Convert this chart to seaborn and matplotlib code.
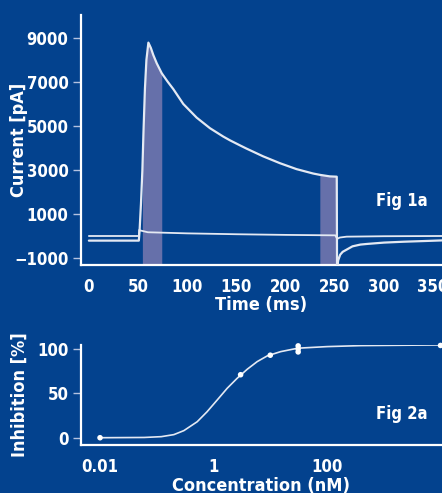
import numpy as np
import pandas as pd
import matplotlib
matplotlib.use("Agg")
import matplotlib.pyplot as plt
import seaborn as sns

# Fig 1a: current traces (time in ms, current in pA)
trace_a_t = [0, 50.8, 51.5, 53.0, 54.4, 55.5, 57.0, 58.5, 60.5, 63.0, 65.5, 69.0, 74.1,
             80.0, 85.8, 96.0, 109.6, 123.1, 136.6, 143.4, 153.6, 160.4, 177.2, 194.2,
             211.1, 228.0, 234.8, 244.9, 252.0, 252.3, 253.5, 255.5, 258.0, 262.0, 268.0,
             276.0, 283.0, 300.0, 320.0, 340.0, 359.0]
trace_a_v = [-210, -210, 200, 1500, 3000, 4700, 6700, 8000, 8790, 8550, 8227, 7850, 7396,
             7020, 6680, 6000, 5380, 4900, 4520, 4350, 4120, 3970, 3620, 3310,
             3040, 2840, 2780, 2710, 2696, -1450, -1100, -850, -720, -620, -470,
             -390, -360, -300, -260, -230, -200]
trace_b_t = [0, 50.8, 51.2, 52.5, 60, 100, 150, 200, 250.5, 252.5, 255, 262, 300, 359]
trace_b_v = [0, 0, 280, 250, 170, 120, 80, 50, 30, -130, -70, -30, -10, 0]
bands = [(54.4, 74.1), (234.8, 252.0)]
t_ticks = [0, 50, 100, 150, 200, 250, 300, 350]
i_ticks = [-1000, 1000, 3000, 5000, 7000, 9000]

# Fig 2a: inhibition vs concentration
conc_pts = [0.01, 3.0, 10, 31, 31, 31, 10000]
inhib_pts = [0, 71, 93, 103.5, 100, 96.7, 104]
fit_conc = [0.01, 0.06, 0.12, 0.2, 0.30, 0.515, 0.77, 1.16, 1.74, 2.61, 3.93, 5.89, 8.83,
            15.2, 30.6, 101, 390, 10600]
fit_inhib = [0, 0.3, 1.2, 3.5, 8.0, 18, 29.3, 42.5, 55.7, 67, 77.2, 85.8, 92.2,
             97, 100.9, 102.7, 103.8, 104.6]
c_ticks = [0.01, 1, 100]
c_labels = ["0.01", "1", "100"]
p_ticks = [0, 50, 100]

bg = "#03428e"
band_col = "#6670aa"
line_col = "#e4e9f3"
tick_col = "#b4c2e0"

sns.set_theme(style="ticks", rc={"figure.facecolor": bg, "axes.facecolor": bg,
                                 "savefig.facecolor": bg})
plt.rcParams["font.family"] = ["DejaVu Sans"]
plt.rcParams["font.stretch"] = "condensed"
plt.rcParams["font.weight"] = "bold"

fig = plt.figure(figsize=(4.42, 4.93), dpi=100)
ax1 = fig.add_axes([81 / 442, 1 - 265 / 493, 361 / 442, 250 / 493])
ax2 = fig.add_axes([81 / 442, 1 - 445 / 493, 361 / 442, 100 / 493])

# --- Fig 1a ---
ta = np.array(trace_a_t)
va = np.array(trace_a_v)
for lo, hi in bands:
    m = (ta >= lo) & (ta <= hi)
    ax1.fill_between(ta[m], -1320, va[m], color=band_col, lw=0, zorder=1)
sns.lineplot(x=trace_b_t, y=trace_b_v, ax=ax1, color=line_col, lw=1.3,
             estimator=None, sort=False, zorder=3)
sns.lineplot(x=trace_a_t, y=trace_a_v, ax=ax1, color=line_col, lw=1.6,
             estimator=None, sort=False, zorder=3)
ax1.set_xlim(-8, 359)
ax1.set_ylim(-1318, 10045)
ax1.set_xticks(t_ticks)
ax1.set_yticks(i_ticks)
ax1.set_xlabel("Time (ms)", fontsize=13, color="white", fontweight="bold", va="center")
ax1.set_ylabel("Current [pA]", fontsize=13, color="white", fontweight="bold", va="center")
ax1.xaxis.set_label_coords(0.5, -0.16)
ax1.yaxis.set_label_coords(-0.172, 0.5)
ax1.text(0.89, 0.256, "Fig 1a", transform=ax1.transAxes, ha="center", va="center",
         fontsize=12, color="white", fontweight="bold")

# --- Fig 2a ---
sns.lineplot(x=fit_conc, y=fit_inhib, ax=ax2, color=line_col, lw=1.2,
             estimator=None, sort=False, zorder=2)
sns.scatterplot(x=conc_pts, y=inhib_pts, ax=ax2, color="white", s=16,
                edgecolor="none", zorder=3, clip_on=False)
ax2.set_xscale("log")
ax2.set_xlim(0.00462, 10620)
ax2.set_ylim(-8.2, 104.5)
ax2.set_xticks(c_ticks)
ax2.set_xticklabels(c_labels)
ax2.minorticks_off()
ax2.set_yticks(p_ticks)
ax2.set_xlabel("Concentration (nM)", fontsize=13, color="white", fontweight="bold", va="center")
ax2.set_ylabel("Inhibition [%]", fontsize=13, color="white", fontweight="bold", va="center")
ax2.xaxis.set_label_coords(0.5, -0.41)
ax2.yaxis.set_label_coords(-0.169, 0.5)
ax2.text(0.889, 0.31, "Fig 2a", transform=ax2.transAxes, ha="center", va="center",
         fontsize=12, color="white", fontweight="bold")

for ax in (ax1, ax2):
    sns.despine(ax=ax)
    for s in ("left", "bottom"):
        ax.spines[s].set_color("white")
        ax.spines[s].set_linewidth(1.6)
    ax.tick_params(axis="y", colors=tick_col, length=6, width=1, pad=3,
                   labelcolor="white", labelsize=12)
    ax.tick_params(axis="x", length=0, pad=9, labelcolor="white", labelsize=12)
    for lab in ax.get_xticklabels() + ax.get_yticklabels():
        lab.set_fontweight("bold")
        lab.set_fontstretch("condensed")

fig.savefig("out.png", dpi=100, facecolor=bg)
